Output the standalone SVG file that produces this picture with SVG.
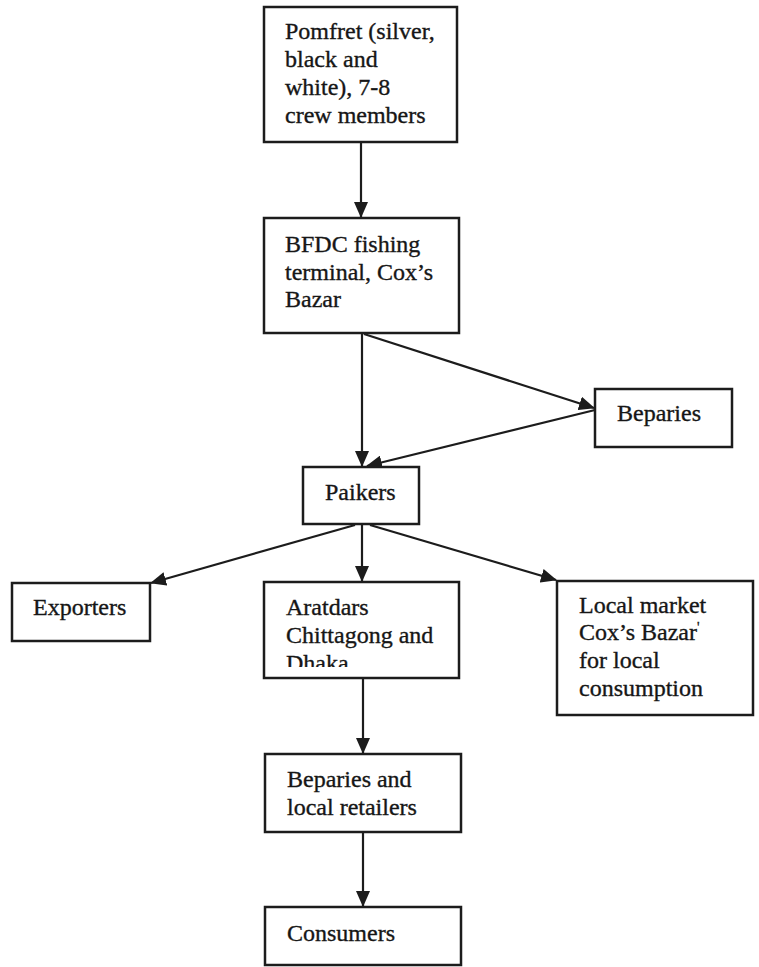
<svg xmlns="http://www.w3.org/2000/svg" width="759" height="967" viewBox="0 0 759 967">
  <style>
    .box { fill: #ffffff; stroke: #1c1c1c; stroke-width: 2.5; }
    .lbl { font-family: "Liberation Serif", "Times New Roman", serif; font-size: 24px; fill: #161616; stroke: #161616; stroke-width: 0.35; }
    .edge { fill: none; stroke: #1c1c1c; stroke-width: 2.2; marker-end: url(#arrow); }
  </style>
  <defs>
    <marker id="arrow" markerUnits="userSpaceOnUse" markerWidth="16" markerHeight="14" refX="15" refY="7" orient="auto">
      <path d="M0,0 L16,7 L0,14 z" fill="#1c1c1c"/>
    </marker>
    <clipPath id="clip-aratdars">
      <rect x="264" y="582" width="196" height="85"/>
    </clipPath>
  </defs>
  <rect width="759" height="967" fill="#ffffff"/>

  <!-- connectors -->
  <g id="connectors">
    <line class="edge" x1="361" y1="142" x2="361" y2="217"/>
    <line class="edge" x1="362" y1="334" x2="362" y2="466"/>
    <line class="edge" x1="364" y1="334" x2="594" y2="408"/>
    <line class="edge" x1="595" y1="410" x2="367" y2="466"/>
    <line class="edge" x1="355" y1="525" x2="151" y2="583"/>
    <line class="edge" x1="362" y1="525" x2="362" y2="581"/>
    <line class="edge" x1="370" y1="525" x2="556" y2="580"/>
    <line class="edge" x1="363" y1="678" x2="363" y2="753"/>
    <line class="edge" x1="363" y1="832" x2="363" y2="906"/>
  </g>

  <g id="pomfret">
    <rect class="box" x="264" y="7" width="193" height="135"/>
    <text class="lbl" x="285" y="39">Pomfret (silver,</text>
    <text class="lbl" x="285" y="67">black and</text>
    <text class="lbl" x="285" y="95">white), 7-8</text>
    <text class="lbl" x="285" y="123">crew members</text>
  </g>

  <g id="bfdc">
    <rect class="box" x="264" y="218" width="195" height="115"/>
    <text class="lbl" x="285" y="252">BFDC fishing</text>
    <text class="lbl" x="285" y="280">terminal, Cox’s</text>
    <text class="lbl" x="285" y="307">Bazar</text>
  </g>

  <g id="beparies">
    <rect class="box" x="595" y="389" width="137" height="58"/>
    <text class="lbl" x="617" y="421">Beparies</text>
  </g>

  <g id="paikers">
    <rect class="box" x="303" y="467" width="116" height="57"/>
    <text class="lbl" x="325" y="500">Paikers</text>
  </g>

  <g id="exporters">
    <rect class="box" x="12" y="583" width="138" height="58"/>
    <text class="lbl" x="33" y="615">Exporters</text>
  </g>

  <g id="aratdars">
    <rect class="box" x="264" y="582" width="195" height="96"/>
    <g clip-path="url(#clip-aratdars)">
      <text class="lbl" x="286" y="615">Aratdars</text>
      <text class="lbl" x="286" y="643">Chittagong and</text>
      <text class="lbl" x="286" y="671">Dhaka</text>
    </g>
  </g>

  <g id="local-market">
    <rect class="box" x="557" y="581" width="196" height="134"/>
    <text class="lbl" x="579" y="613">Local market</text>
    <text class="lbl" x="579" y="640">Cox’s Bazar<tspan font-size="14" dy="-8">'</tspan></text>
    <text class="lbl" x="579" y="668">for local</text>
    <text class="lbl" x="579" y="696">consumption</text>
  </g>

  <g id="beparies-retailers">
    <rect class="box" x="265" y="754" width="196" height="78"/>
    <text class="lbl" x="287" y="787">Beparies and</text>
    <text class="lbl" x="287" y="815">local retailers</text>
  </g>

  <g id="consumers">
    <rect class="box" x="265" y="907" width="196" height="58"/>
    <text class="lbl" x="287" y="941">Consumers</text>
  </g>
</svg>
